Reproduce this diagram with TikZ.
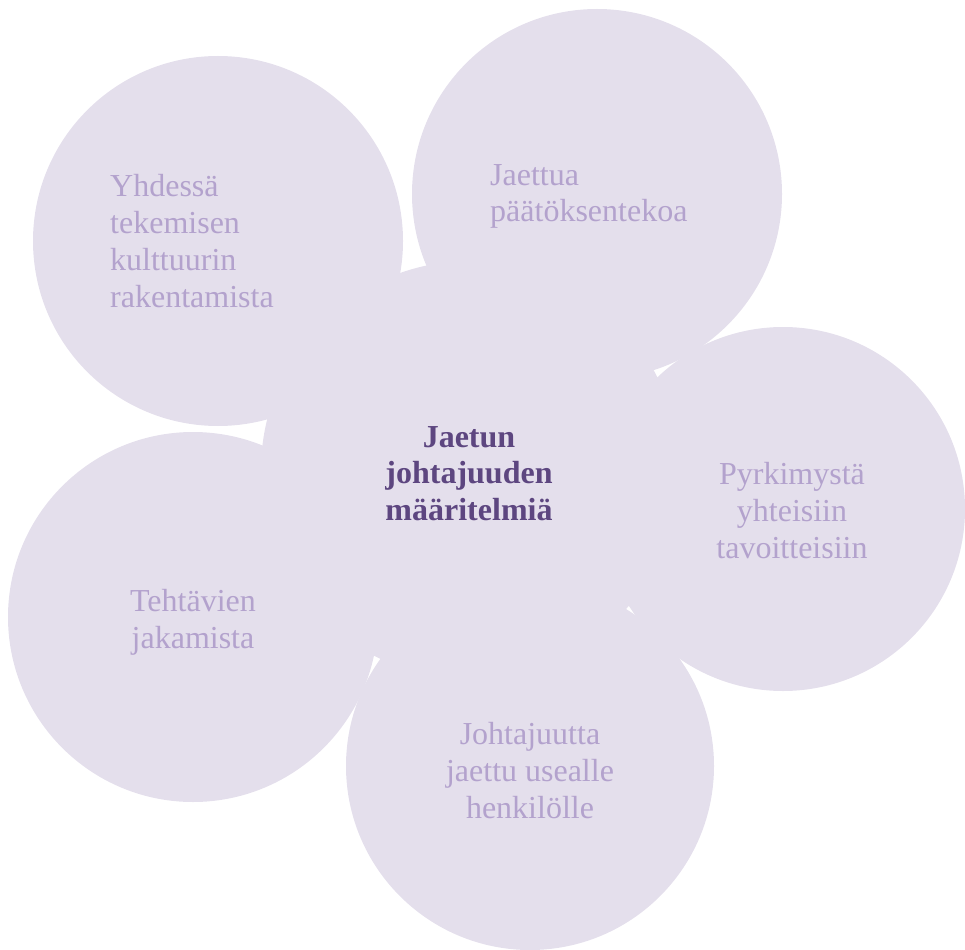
\documentclass[tikz,border=0pt]{standalone}
\usepackage{fontspec}
\setmainfont{Liberation Serif}
\definecolor{petal}{HTML}{E4DFEC}
\definecolor{petaltext}{HTML}{B3A2CD}
\definecolor{coretext}{HTML}{5D4680}
\tikzset{
  petalcircle/.style={circle, fill=petal, draw=none, inner sep=0pt},
  petallabel/.style={text=petaltext, inner sep=0pt, font=\fontsize{32}{36.8}\selectfont},
  corelabel/.style={text=coretext, inner sep=0pt, align=center, font=\fontsize{32}{36.5}\selectfont\bfseries},
}
\begin{document}
\begin{tikzpicture}[x=1pt, y=-1pt]
  \useasboundingbox (0,0) rectangle (965,949);
  % centre disc and the five petals
  \node[petalcircle, minimum size=418pt] (core) at (470,470) {};
  \node[petalcircle, minimum size=370pt] (pTL) at (218,241) {};
  \node[petalcircle, minimum size=370pt] (pTR) at (597,194) {};
  \node[petalcircle, minimum size=364pt] (pR)  at (783,509) {};
  \node[petalcircle, minimum size=368pt] (pB)  at (530,766) {};
  \node[petalcircle, minimum size=370pt] (pL)  at (193,617) {};
  % labels (anchored on the baseline of their last line)
  \node[corelabel, anchor=base] (tCore) at (469,520) {Jaetun\\johtajuuden\\määritelmiä};
  \node[petallabel, align=left, anchor=base west] (tTL) at (110,307) {Yhdessä\\tekemisen\\kulttuurin\\rakentamista};
  \node[petallabel, align=left, anchor=base west] (tTR) at (490,222) {Jaettua\\päätöksentekoa};
  \node[petallabel, align=center, anchor=base] (tR) at (792,558) {Pyrkimystä\\yhteisiin\\tavoitteisiin};
  \node[petallabel, align=center, anchor=base] (tB) at (530,818) {Johtajuutta\\jaettu usealle\\henkilölle};
  \node[petallabel, align=center, anchor=base] (tL) at (193,648) {Tehtävien\\jakamista};
\end{tikzpicture}
\end{document}
